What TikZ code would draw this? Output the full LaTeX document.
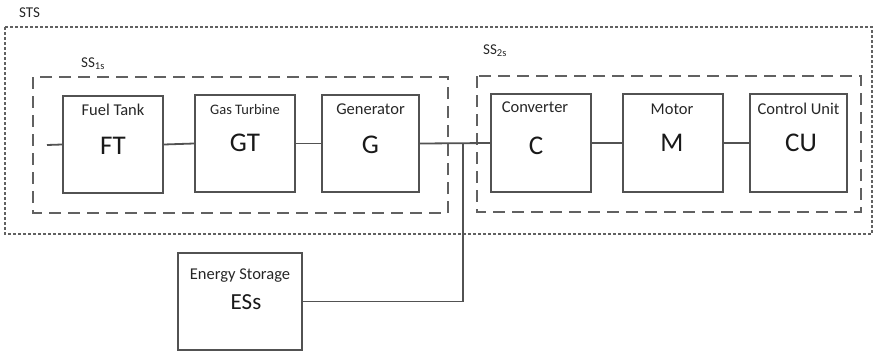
\documentclass[tikz,border=0pt]{standalone}
\usepackage{fontspec}
\setmainfont{Carlito}
\begin{document}
\begin{tikzpicture}[x=1pt,y=-1pt,
  blk/.style={draw=black!68,line width=2pt,rectangle,inner sep=0pt},
  wire/.style={draw=black!68,line width=1.8pt},
  grp/.style={draw=black!62,line width=2pt,dash pattern=on 12pt off 7pt},
  outer/.style={draw=black!62,line width=1.4pt,dash pattern=on 3pt off 2pt},
  ttl/.style={font=\fontsize{16.5}{16.5}\selectfont,text=black!85,inner sep=0pt},
  abb/.style={font=\fontsize{27}{27}\selectfont,text=black!90,inner sep=0pt},
  grl/.style={font=\fontsize{15}{15}\selectfont,text=black!85,inner sep=0pt,anchor=west}]
\useasboundingbox (0,0) rectangle (874,354);
% outer system
\draw[outer] (5,27) rectangle (872,234);
\node[grl] (sts) at (19,13) {STS};
% subsystems
\draw[grp] (33,77) rectangle (448,213);
\node[grl] (ss1) at (81,64) {SS\textsubscript{1s}};
\draw[grp] (477,76) rectangle (861,212);
\node[grl] (ss2) at (483,51) {SS\textsubscript{2s}};
% blocks
\node[blk,minimum width=100pt,minimum height=97pt] (ft) at (113,144.5) {};
\node[blk,minimum width=100pt,minimum height=97pt] (gt) at (245,143.5) {};
\node[blk,minimum width=97pt,minimum height=97pt] (g) at (370.5,143.5) {};
\node[blk,minimum width=100pt,minimum height=98pt] (c) at (541,143) {};
\node[blk,minimum width=100pt,minimum height=98pt] (m) at (673,143) {};
\node[blk,minimum width=97pt,minimum height=98pt] (cu) at (798.5,143) {};
\node[blk,minimum width=124pt,minimum height=97pt] (es) at (240,301.5) {};
% texts
\node[ttl] (ftt) at (113,110) {Fuel Tank};
\node[abb] (fta) at (113,146) {FT};
\node[ttl,font=\fontsize{14.5}{14.5}\selectfont] (gtt) at (245,110) {Gas Turbine};
\node[abb] (gta) at (245,143) {GT};
\node[ttl] (gtl) at (370.5,109) {Generator};
\node[abb] (ga) at (370.5,145) {G};
\node[ttl] (ct) at (535,107) {Converter};
\node[abb] (ca) at (536,146) {C};
\node[ttl] (mt) at (672,109) {Motor};
\node[abb] (ma) at (672,143) {M};
\node[ttl] (cut) at (798.5,109) {Control Unit};
\node[abb] (cua) at (801,143) {CU};
\node[ttl] (est) at (240,276) {Energy Storage};
\node[abb,font=\fontsize{23}{23}\selectfont] (esa) at (246,302) {ESs};
% connectors
\coordinate (in) at (47,145);
\coordinate (j) at (463,144);
\draw[wire] (in) -- (ft.west);
\draw[wire] (ft.east) -- (gt.west);
\draw[wire] (gt.east) -- (g.west);
\draw[wire] (g.east) -- (c.west);
\draw[wire] (c.east) -- (m.west);
\draw[wire] (m.east) -- (cu.west);
\draw[wire] (es.east) -| (j);
\end{tikzpicture}
\end{document}
